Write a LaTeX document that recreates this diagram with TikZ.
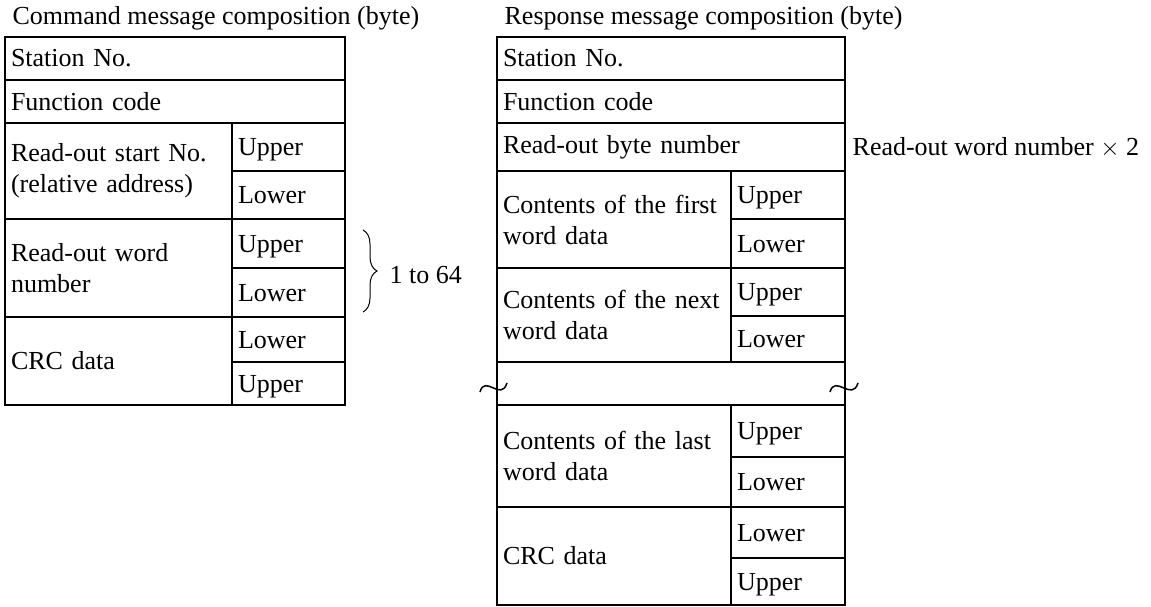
\documentclass[tikz,border=0pt]{standalone}
\usepackage{fontspec}
\setmainfont{Liberation Serif}
\usetikzlibrary{decorations.pathreplacing}
\newcommand{\msgFont}{\fontsize{26}{31}\selectfont}
\newcommand{\msgRule}{1.3pt}

\begin{document}
\begin{tikzpicture}[x=1pt, y=-1pt, line width=\msgRule, every node/.style={font=\msgFont},
		field/.style 2 args={draw, anchor=north west, outer sep=0pt, inner xsep=6pt, inner ysep=0pt,
			align=left, text width=#1, minimum height=#2},
		half/.style 2 args={field={#1}{#2}, text depth=0pt},
		caption/.style={anchor=base west, inner sep=0pt}]
	\useasboundingbox (0,0) rectangle (1151,607);
	%command message
	\node[caption] (cmdTitle) at (12,25) {Command message composition (byte)};
	\node[field={328}{43}] (cmdStation) at (5,37) {Station No.};
	\node[field={328}{43}] (cmdFunc) at (5,80) {Function code};
	\node[field={215}{96}] (cmdStart) at (5,123) {Read-out start No.\\(relative address)};
	\node[half={101}{48}] (cmdStartHi) at (232,123) {Upper};
	\node[half={101}{48}] (cmdStartLo) at (232,171) {Lower};
	\node[field={215}{98}] (cmdWords) at (5,219) {Read-out word\\number};
	\node[half={101}{49}] (cmdWordsHi) at (232,219) {Upper};
	\node[half={101}{49}] (cmdWordsLo) at (232,268) {Lower};
	\node[field={215}{88}] (cmdCrc) at (5,317) {CRC data};
	\node[half={101}{45}] (cmdCrcLo) at (232,317) {Lower};
	\node[half={101}{43}] (cmdCrcHi) at (232,362) {Upper};
	\coordinate (rangeTop) at (363,230);
	\coordinate (rangeBot) at (363,312);
	\draw[line width=1pt, decorate, decoration={brace, amplitude=14pt}] (rangeTop) -- (rangeBot);
	\node[caption] (cmdRange) at (389,283) {1 to 64};
	%response message
	\node[caption] (resTitle) at (504,25) {Response message composition (byte)};
	\node[field={336}{43}] (resStation) at (497,37) {Station No.};
	\node[field={336}{43}] (resFunc) at (497,80) {Function code};
	\node[field={336}{48}] (resBytes) at (497,123) {Read-out byte number};
	\node[caption] (resBytesNote) at (852,155) {Read-out word number $\times$ 2};
	\node[field={222}{97}] (resFirst) at (497,171) {Contents of the first\\word data};
	\node[half={102}{48}] (resFirstHi) at (731,171) {Upper};
	\node[half={102}{49}] (resFirstLo) at (731,219) {Lower};
	\node[field={222}{94}] (resNext) at (497,268) {Contents of the next\\word data};
	\node[half={102}{48}] (resNextHi) at (731,268) {Upper};
	\node[half={102}{46}] (resNextLo) at (731,316) {Lower};
	\node[field={336}{43}] (resGap) at (497,362) {};
	\node[field={222}{102}] (resLast) at (497,405) {Contents of the last\\word data};
	\node[half={102}{52}] (resLastHi) at (731,405) {Upper};
	\node[half={102}{50}] (resLastLo) at (731,457) {Lower};
	\node[field={222}{98}] (resCrc) at (497,507) {CRC data};
	\node[half={102}{51}] (resCrcLo) at (731,507) {Lower};
	\node[half={102}{47}] (resCrcHi) at (731,558) {Upper};
	%break marks
	\draw[line width=1.5pt] (480,392) .. controls (485,374) and (501,402) .. (507,383);
	\draw[line width=1.5pt] (830,392) .. controls (835,374) and (852,402) .. (858,383);
\end{tikzpicture}
\end{document}
